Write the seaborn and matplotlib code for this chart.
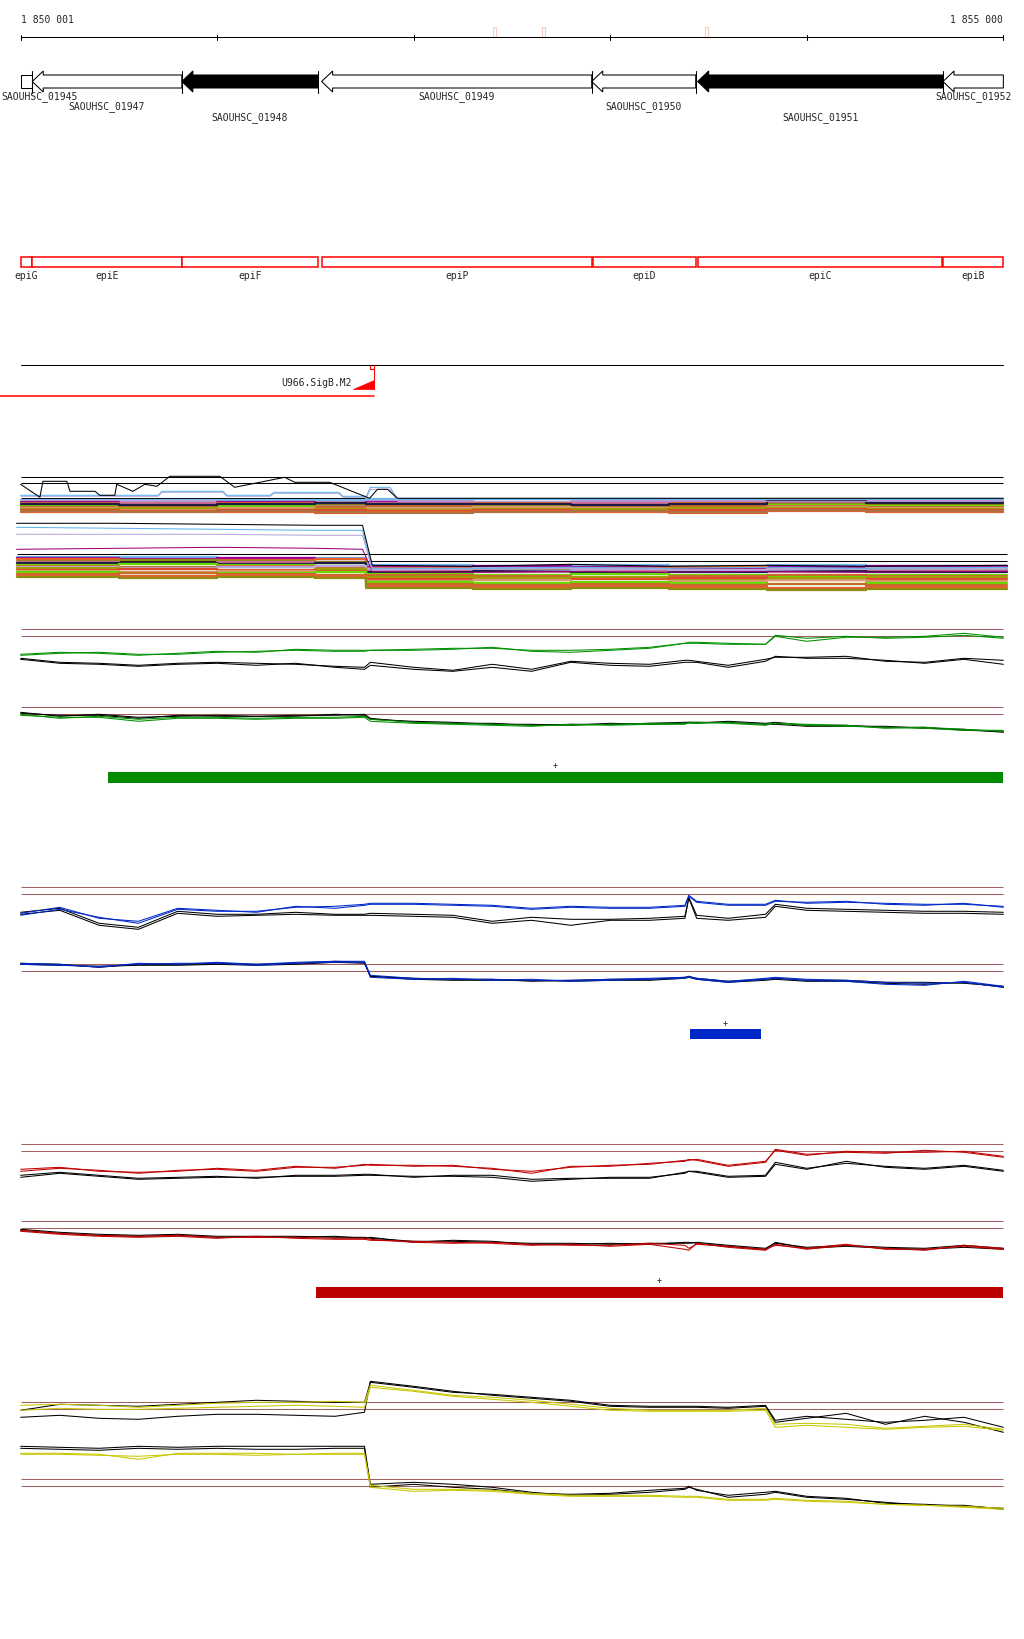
import seaborn as sns
import matplotlib.pyplot as plt
from matplotlib.patches import Polygon, Rectangle

sns.set_theme(style="white")
plt.rcParams['font.family'] = ['DejaVu Sans Mono', 'DejaVu Sans']

W, H = 1024, 1640
X0, X1 = 1849896, 1855105          # genome coordinates at the figure edges
view_start, view_end = 1850001, 1855000
ruler_ticks = [1851000, 1852000, 1853000, 1854000]
ruler_marks = [1852410, 1852659, 1853488]

# genes (all on the minus strand)
gene_names = ['SAOUHSC_01945', 'SAOUHSC_01947', 'SAOUHSC_01948', 'SAOUHSC_01949',
              'SAOUHSC_01950', 'SAOUHSC_01951', 'SAOUHSC_01952']
gene_start = [1849900, 1850060, 1850821, 1851532, 1852906, 1853445, 1854693]
gene_end = [1850060, 1850821, 1851512, 1852906, 1853435, 1854693, 1855200]
gene_fill = ['white', 'white', 'black', 'white', 'white', 'black', 'white']

# operon annotation
epi_names = ['epiG', 'epiE', 'epiF', 'epiP', 'epiD', 'epiC', 'epiB']
epi_start = [1850001, 1850061, 1850821, 1851532, 1852912, 1853447, 1854693]
epi_end = [1850061, 1850821, 1851512, 1852906, 1853435, 1854686, 1854999]

# SigB promoter
sigb_name = 'U966.SigB.M2'
sigb_pos = 1851798

# differential regions
bar_start = [1850444, 1853406, 1851503]
bar_end = [1855000, 1853765, 1855000]
bar_strand = ['+', '+', '+']

# ---- multi-condition profile panel ----
mt_blk_x = [1850001, 1850099, 1850114, 1850236, 1850252, 1850379, 1850404, 1850480,
            1850490, 1850572, 1850633, 1850694, 1850760, 1851014, 1851090, 1851344,
            1851395, 1851573, 1851776, 1851816, 1851867, 1851918, 1855000]
mt_blk_y = [7, 20, 4, 4, 14, 14, 18, 18, 7, 14, 7, 9, -1, -1, 10, 0, 5, 5, 21, 12, 12, 21, 21]
mt_blue_x = [1850001, 1850700, 1850720, 1851030, 1851050, 1851270, 1851290, 1851620,
             1851640, 1851760, 1851780, 1851880, 1851920, 1855000]
mt_blue_y = [18, 18, 14, 14, 18, 18, 15, 15, 19, 19, 10, 10, 22, 22]
mt_lilac_y = [19, 19, 15, 15, 19, 19, 16, 16, 20, 20, 12, 12, 24, 24]

ml_x = [1849980, 1850500, 1851000, 1851500, 1851740, 1851790, 1852300, 1852800,
        1853300, 1853800, 1854300, 1855020]
ml_blk = [46, 46, 47, 48, 48, 88, 89, 87, 89, 88, 89, 88]
ml_blue = [50, 51, 52, 53, 53, 91, 91, 90, 91, 90, 91, 90]
ml_lilac = [57, 57, 57, 58, 58, 93, 92, 93, 92, 93, 92, 92]
ml_purple = [72, 71, 70, 71, 72, 94, 95, 94, 95, 94, 95, 94]

band_hi_x = [1850001, 1850500, 1851000, 1851500, 1851760, 1852300, 1852800, 1853300,
             1853800, 1854300, 1855000]
band_lo_x = [1849980, 1850500, 1851000, 1851500, 1851760, 1852300, 1852800, 1853300,
             1853800, 1854300, 1855020]
band_hi_colors = ['#70b8f0', '#b8a8d8', '#990099', '#e8602c', '#d07098', '#8c8c10', '#66dd00',
                  '#c86a2a', '#1c1c44', '#d89a70', '#a0a000', '#e04a30', '#e06030', '#b07040']
band_hi_levels = [
    [23, 23, 23, 23, 22, 22, 22, 22, 22, 22, 22],
    [24, 24, 25, 25, 24, 25, 24, 24, 23, 24, 24],
    [25, 26, 25, 26, 25, 26, 25, 25, 24, 25, 25],
    [26, 27, 26, 26, 27, 26, 27, 26, 25, 26, 26],
    [27, 26, 27, 28, 26, 27, 26, 27, 26, 27, 27],
    [28, 29, 28, 27, 28, 28, 29, 28, 27, 28, 28],
    [29, 30, 29, 30, 31, 30, 29, 30, 28, 29, 29],
    [30, 29, 31, 30, 29, 31, 30, 29, 29, 30, 30],
    [27, 28, 27, 26, 27, 27, 28, 27, 24, 26, 26],
    [31, 32, 31, 32, 31, 30, 31, 32, 30, 31, 31],
    [32, 31, 33, 32, 33, 32, 32, 31, 31, 32, 32],
    [33, 34, 33, 33, 34, 33, 34, 33, 32, 33, 33],
    [35, 34, 35, 36, 35, 34, 35, 36, 34, 35, 35],
    [34, 35, 34, 35, 36, 35, 34, 35, 33, 34, 34],
]
band_lo_colors = ['#70b8f0', '#990099', '#e8602c', '#8c8c10', '#d07098', '#1c1c44', '#66dd00',
                  '#c86a2a', '#b8a8d8', '#a0a000', '#e04a30', '#d89a70', '#66dd00', '#c86a2a',
                  '#e06030', '#8c8c10']
band_lo_levels = [
    [80, 80, 81, 81, 88, 89, 88, 89, 88, 89, 89],
    [81, 82, 81, 82, 90, 89, 90, 91, 90, 89, 89],
    [82, 83, 83, 82, 91, 92, 91, 90, 92, 91, 91],
    [84, 83, 84, 85, 93, 92, 93, 94, 93, 92, 92],
    [85, 86, 85, 86, 94, 95, 94, 93, 95, 94, 94],
    [86, 86, 87, 86, 95, 94, 96, 95, 94, 95, 95],
    [88, 87, 88, 89, 97, 98, 97, 98, 99, 98, 98],
    [89, 90, 89, 90, 98, 99, 100, 99, 98, 99, 99],
    [90, 91, 90, 89, 92, 91, 92, 93, 92, 91, 91],
    [91, 92, 93, 92, 100, 101, 100, 102, 101, 100, 100],
    [93, 92, 93, 94, 102, 103, 102, 101, 103, 102, 102],
    [94, 95, 94, 95, 104, 103, 105, 104, 103, 104, 104],
    [95, 96, 96, 95, 105, 106, 105, 106, 107, 106, 106],
    [97, 96, 97, 98, 107, 108, 107, 108, 107, 108, 108],
    [98, 99, 98, 99, 109, 110, 109, 110, 111, 110, 110],
    [100, 101, 100, 101, 111, 112, 111, 112, 113, 112, 112],
]

# ---- replicate profiles (offset below the threshold line, px) ----
grid_bp = [1850001, 1850200, 1850400, 1850600, 1850800, 1851000, 1851200, 1851400,
           1851600, 1851750, 1851780, 1852000, 1852200, 1852400, 1852600, 1852800,
           1853000, 1853200, 1853380, 1853400, 1853440, 1853600, 1853790, 1853840,
           1854000, 1854200, 1854400, 1854600, 1854800, 1855000]

green_hi_c1 = [25, 23, 24, 26, 24, 22, 23, 20, 21, 21, 21, 20, 19, 19, 21, 21, 20, 18, 14, 13, 13, 14, 15, 7, 12, 8, 8, 7, 4, 8]
green_hi_c2 = [26, 24, 23, 25, 25, 23, 22, 21, 22, 22, 21, 21, 20, 18, 22, 23, 21, 19, 14, 14, 14, 15, 15, 6, 9, 7, 9, 8, 6, 9]
green_hi_k1 = [29, 33, 34, 36, 34, 33, 34, 35, 37, 38, 33, 38, 41, 35, 40, 32, 34, 35, 31, 31, 32, 36, 30, 28, 28, 27, 32, 33, 29, 31]
green_hi_k2 = [30, 34, 35, 37, 35, 34, 36, 34, 38, 40, 36, 40, 42, 38, 42, 33, 36, 37, 33, 33, 33, 38, 32, 27, 29, 29, 31, 34, 30, 35]
green_lo_c1 = [7, 11, 9, 12, 10, 10, 11, 10, 10, 9, 12, 15, 16, 17, 18, 18, 17, 16, 16, 16, 16, 15, 17, 16, 18, 19, 20, 21, 23, 23]
green_lo_c2 = [8, 10, 10, 14, 11, 11, 12, 11, 11, 10, 14, 16, 17, 18, 19, 17, 18, 17, 17, 15, 15, 16, 18, 16, 17, 18, 21, 20, 22, 24]
green_lo_k1 = [5, 9, 7, 10, 9, 8, 9, 8, 8, 7, 11, 15, 16, 16, 18, 17, 17, 16, 15, 15, 16, 14, 16, 15, 18, 18, 20, 20, 23, 24]
green_lo_k2 = [6, 8, 8, 11, 8, 9, 9, 9, 7, 8, 12, 14, 15, 17, 17, 18, 16, 17, 16, 15, 15, 15, 17, 17, 19, 19, 19, 21, 22, 25]

blue_hi_c1 = [28, 22, 30, 36, 22, 24, 24, 20, 19, 17, 16, 16, 17, 18, 21, 19, 20, 20, 18, 8, 14, 17, 17, 13, 16, 15, 16, 17, 17, 19]
blue_hi_c2 = [26, 20, 31, 34, 21, 23, 25, 19, 21, 18, 17, 17, 18, 19, 22, 20, 21, 21, 19, 9, 15, 18, 18, 14, 15, 14, 17, 18, 16, 20]
blue_hi_k1 = [25, 21, 36, 40, 24, 27, 27, 25, 27, 27, 26, 27, 28, 34, 30, 32, 32, 31, 29, 10, 28, 31, 27, 17, 21, 22, 23, 24, 24, 25]
blue_hi_k2 = [27, 23, 38, 42, 26, 29, 28, 27, 28, 28, 28, 29, 30, 36, 33, 38, 33, 33, 31, 11, 31, 33, 30, 19, 23, 24, 25, 26, 26, 27]
blue_lo_c1 = [-1, 0, 3, -1, 0, -2, 0, -2, -3, -3, 11, 14, 15, 15, 16, 16, 15, 14, 13, 13, 14, 17, 14, 13, 15, 16, 18, 19, 18, 23]
blue_lo_c2 = [0, 1, 2, 0, -1, -1, 1, -1, -2, -2, 13, 15, 14, 16, 15, 17, 16, 15, 14, 12, 15, 18, 15, 14, 16, 17, 20, 21, 17, 22]
blue_lo_k1 = [-1, 0, 3, 0, 0, -1, 0, -1, -3, -2, 12, 14, 15, 15, 17, 16, 15, 15, 13, 12, 14, 17, 15, 14, 16, 16, 18, 18, 19, 22]
blue_lo_k2 = [0, 1, 2, 1, 1, 0, 1, 0, -2, -1, 12, 15, 16, 16, 16, 17, 16, 16, 14, 13, 15, 18, 16, 15, 17, 17, 19, 20, 18, 23]

red_hi_c1 = [27, 24, 26, 29, 26, 25, 27, 23, 23, 21, 20, 22, 21, 25, 27, 23, 21, 20, 16, 16, 15, 21, 17, 6, 11, 7, 8, 8, 7, 12]
red_hi_c2 = [25, 23, 27, 28, 27, 24, 26, 22, 24, 20, 21, 21, 22, 24, 29, 22, 22, 19, 17, 15, 16, 22, 18, 5, 10, 8, 9, 6, 8, 13]
red_hi_k1 = [31, 28, 31, 34, 33, 32, 34, 31, 31, 30, 30, 33, 31, 31, 35, 34, 34, 34, 28, 27, 27, 32, 31, 18, 24, 19, 22, 24, 21, 26]
red_hi_k2 = [33, 29, 32, 35, 34, 33, 33, 32, 32, 31, 31, 32, 32, 33, 37, 35, 33, 33, 29, 27, 28, 33, 32, 20, 25, 17, 23, 25, 22, 27]
red_lo_c1 = [9, 12, 14, 15, 14, 16, 16, 16, 17, 17, 18, 21, 22, 21, 23, 24, 24, 22, 24, 27, 23, 25, 28, 24, 27, 23, 28, 28, 25, 28]
red_lo_c2 = [10, 13, 15, 16, 15, 17, 15, 17, 18, 18, 19, 20, 21, 22, 24, 23, 25, 23, 28, 29, 22, 26, 29, 23, 28, 24, 27, 29, 24, 27]
red_lo_k1 = [8, 11, 13, 14, 13, 15, 15, 15, 16, 16, 17, 20, 20, 21, 22, 22, 23, 22, 22, 22, 21, 24, 27, 22, 26, 24, 26, 27, 24, 27]
red_lo_k2 = [9, 12, 14, 15, 14, 16, 16, 16, 15, 17, 16, 21, 19, 20, 23, 23, 22, 23, 21, 21, 22, 25, 28, 21, 27, 25, 27, 28, 26, 28]

yellow_hi_c1 = [3, 2, 3, 5, 3, 1, 0, 0, -1, 0, -17, -12, -7, -5, -2, 2, 6, 8, 8, 8, 8, 8, 6, 22, 21, 22, 26, 24, 22, 27]
yellow_hi_c2 = [8, 6, 7, 7, 6, 5, 4, 3, 4, 5, -15, -11, -6, -3, 0, 4, 8, 9, 9, 9, 9, 9, 8, 25, 23, 25, 27, 25, 24, 28]
yellow_hi_k1 = [8, 2, 3, 4, 2, 0, -2, -1, 0, 0, -20, -15, -10, -8, -5, -2, 3, 4, 4, 4, 4, 5, 3, 18, 14, 17, 20, 18, 15, 25]
yellow_hi_k2 = [15, 13, 16, 17, 14, 12, 12, 13, 14, 10, -21, -16, -11, -7, -4, -1, 4, 5, 5, 5, 5, 6, 4, 20, 16, 11, 22, 14, 20, 30]
yellow_lo_c1 = [-26, -26, -25, -20, -26, -26, -26, -25, -26, -26, 6, 10, 10, 11, 14, 16, 16, 16, 17, 17, 17, 20, 20, 19, 21, 22, 25, 26, 27, 29]
yellow_lo_c2 = [-25, -25, -24, -23, -25, -25, -24, -25, -25, -25, 8, 12, 11, 12, 15, 17, 17, 17, 18, 18, 18, 21, 21, 20, 22, 23, 25, 26, 28, 30]
yellow_lo_k1 = [-33, -32, -31, -33, -32, -33, -33, -33, -33, -33, 5, 3, 5, 8, 13, 16, 15, 13, 10, 8, 10, 18, 15, 13, 18, 20, 23, 26, 26, 30]
yellow_lo_k2 = [-31, -30, -29, -31, -30, -31, -30, -30, -31, -31, 8, 5, 8, 10, 14, 15, 14, 11, 9, 7, 11, 16, 13, 12, 17, 19, 24, 25, 27, 29]

BROWN = '#a06060'
GREEN, BLUE, RED, YELLOW = '#009000', '#0028c8', '#c00000', '#c8c800'
BAR_COLORS = ['#008c00', '#0028c8', '#bb0000']
LW = 0.75
FS = 7

fig = plt.figure(figsize=(W / 100, H / 100), dpi=100)
fig.patch.set_facecolor('white')

# annotation layer: x in genome coordinates, y in pixel rows
ann = fig.add_axes([0, 0, 1, 1])
ann.set_xlim(X0, X1)
ann.set_ylim(H, 0)
ann.axis('off')

# ruler
ann.plot([view_start, view_end], [38, 38], color='black', lw=LW)
for t in [view_start] + ruler_ticks + [view_end]:
    ann.plot([t, t], [35.5, 40.5], color='black', lw=LW)
for m in ruler_marks:
    ann.add_patch(Rectangle((m - 7, 28), 14, 10, fc='white', ec='#f4cfc4', lw=0.8))
ann.text(view_start, 20, f"{view_start:,}".replace(',', ' '), ha='left', va='center', fontsize=FS)
ann.text(view_end, 20, f"{view_end:,}".replace(',', ' '), ha='right', va='center', fontsize=FS)

# genes
head = 56
label_rows = [97, 106.5, 118]
half_label = 40 * 5.09  # about half a label width, in bp
for i, (name, s, e, fc) in enumerate(zip(gene_names, gene_start, gene_end, gene_fill)):
    s0, e0 = max(s, view_start), min(e, view_end)
    if s >= view_start:
        pts = [(e0, 76), (s + head, 76), (s + head, 72), (s, 82.5),
               (s + head, 93), (s + head, 89), (e0, 89)]
    else:
        pts = [(e0, 76), (s0, 76), (s0, 89), (e0, 89)]
    ann.add_patch(Polygon(pts, closed=True, fc=fc, ec='black', lw=LW))
    if e <= view_end:
        ann.plot([e, e], [72, 94], color='black', lw=LW)
    cx = (s0 + e0) / 2
    if cx - half_label < X0:
        ann.text(X0 + 5, label_rows[i % 3], name, ha='left', va='center', fontsize=FS)
    elif cx + half_label > X1:
        ann.text(X1 - 5, label_rows[i % 3], name, ha='right', va='center', fontsize=FS)
    else:
        ann.text(cx, label_rows[i % 3], name, ha='center', va='center', fontsize=FS)

# epi operon
for name, s, e in zip(epi_names, epi_start, epi_end):
    ann.add_patch(Rectangle((s, 258), e - s, 10, fc='white', ec='red', lw=1.1))
    ann.text((s + e) / 2, 276, name, ha='center', va='center', fontsize=FS)

# SigB promoter track
ann.plot([view_start, view_end], [366, 366], color='black', lw=LW)
ann.plot([sigb_pos, sigb_pos], [366, 390], color='red', lw=LW)
ann.add_patch(Rectangle((sigb_pos - 18, 366), 18, 4, fc='white', ec='red', lw=0.8))
ann.add_patch(Polygon([(sigb_pos - 106, 390), (sigb_pos, 390), (sigb_pos, 381)],
                      closed=True, fc='red', ec='red', lw=0.5))
ann.text(sigb_pos - 112, 383.5, sigb_name, ha='right', va='center', fontsize=FS)
ann.plot([X0, sigb_pos], [397, 397], color='red', lw=1.1)

# differential regions
bar_rows = [773, 1030, 1288]
bar_h = [11, 9.5, 11]
for s, e, st, c, r, h in zip(bar_start, bar_end, bar_strand, BAR_COLORS, bar_rows, bar_h):
    ann.add_patch(Rectangle((s, r), e - s, h, fc=c, ec='none'))
    ann.text((s + e) / 2, r - 7, st, ha='center', va='center', fontsize=6)


def track(ref, up, down):
    top, bot = ref - up, ref + down
    ax = fig.add_axes([0, 1 - bot / H, 1, (bot - top) / H])
    ax.set_xlim(X0, X1)
    ax.set_ylim(down, -up)
    ax.axis('off')
    return ax


def line(ax, x, y, color, lw=LW, **kw):
    sns.lineplot(x=x, y=y, ax=ax, color=color, linewidth=lw, estimator=None,
                 sort=False, legend=False, **kw)


# multi-condition panel
ax = track(478.3, 15, 125)
ax.hlines([0, 6, 21], view_start, view_end, color='black', lw=LW)
for c, lv in zip(band_hi_colors, band_hi_levels):
    line(ax, band_hi_x, lv, c, lw=1.6, drawstyle='steps-post')
line(ax, mt_blue_x, mt_lilac_y, '#b8a8d8')
line(ax, mt_blue_x, mt_blue_y, '#60b4f0')
line(ax, mt_blk_x, mt_blk_y, 'black')
ax.hlines([77, 84], 1849980, 1855020, color='black', lw=LW)
for c, lv in zip(band_lo_colors, band_lo_levels):
    line(ax, band_lo_x, lv, c, lw=1.6, drawstyle='steps-post')
line(ax, ml_x, ml_purple, '#990080')
line(ax, ml_x, ml_lilac, '#b8a8d8')
line(ax, ml_x, ml_blue, '#60b4f0')
line(ax, ml_x, ml_blk, 'black')
ax.set_xlim(X0, X1)
ax.set_ylim(125, -15)

panels = [
    (630.3, GREEN, [green_hi_c1, green_hi_c2], [green_hi_k1, green_hi_k2]),
    (708.3, GREEN, [green_lo_c1, green_lo_c2], [green_lo_k1, green_lo_k2]),
    (888.3, BLUE, [blue_hi_c1, blue_hi_c2], [blue_hi_k1, blue_hi_k2]),
    (965.3, BLUE, [blue_lo_c1, blue_lo_c2], [blue_lo_k1, blue_lo_k2]),
    (1145.3, RED, [red_hi_c1, red_hi_c2], [red_hi_k1, red_hi_k2]),
    (1222.3, RED, [red_lo_c1, red_lo_c2], [red_lo_k1, red_lo_k2]),
    (1403.3, YELLOW, [yellow_hi_c1, yellow_hi_c2], [yellow_hi_k1, yellow_hi_k2]),
    (1480.3, YELLOW, [yellow_lo_c1, yellow_lo_c2], [yellow_lo_k1, yellow_lo_k2]),
]
for ref, col, reps, blacks in panels:
    ax = track(ref, 45, 45)
    ax.hlines([0, 7], view_start, view_end, color=BROWN, lw=LW)
    for v in blacks:
        line(ax, grid_bp, v, 'black')
    for v in reps:
        line(ax, grid_bp, v, col)
    ax.set_xlim(X0, X1)
    ax.set_ylim(45, -45)

fig.savefig('out.png', dpi=100)
